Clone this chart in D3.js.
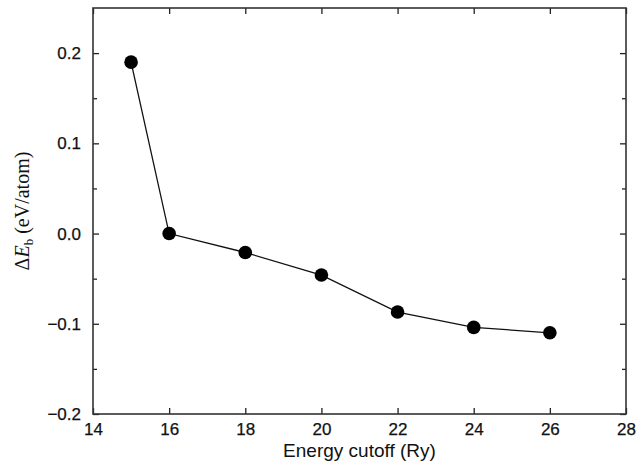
<!DOCTYPE html>
<html>
<head>
<meta charset="utf-8">
<script src="https://cdn.jsdelivr.net/npm/d3@7"></script>
<style>
  body { margin: 0; background: #fff; }
</style>
</head>
<body>
<svg id="chart" width="636" height="468"></svg>
<script>
const cutoff = [15, 16, 18, 20, 22, 24, 26];
const deltaE = [0.19, 0.0, -0.021, -0.046, -0.087, -0.104, -0.110];
const xTicks = [14, 16, 18, 20, 22, 24, 26, 28];
const yTicks = [-0.2, -0.1, 0.0, 0.1, 0.2];
const yMinor = [-0.15, -0.05, 0.05, 0.15];

const margin = { top: 8, right: 10, bottom: 54, left: 93 };
const svg = d3.select('#chart');
const width = 636 - margin.left - margin.right;
const height = 468 - margin.top - margin.bottom;

const x = d3.scaleLinear().domain([14, 28]).range([0, width]);
const y = d3.scaleLinear().domain([-0.2, 0.25]).range([height, 0]);

const g = svg.append('g').attr('transform', 'translate(' + margin.left + ',' + margin.top + ')');

// inward ticks on all four sides
const tk = 6;
const xAxis = d3.axisBottom(x).tickValues(xTicks).tickSize(-tk).tickPadding(9).tickFormat(d3.format('d'));
const xTop = d3.axisTop(x).tickValues(xTicks).tickSize(-tk).tickFormat('');
const yAxis = d3.axisLeft(y).tickValues(yTicks).tickSize(-tk).tickPadding(12).tickFormat(d3.format('.1f'));
const yRight = d3.axisRight(y).tickValues(yTicks).tickSize(-tk).tickFormat('');
const yMinorL = d3.axisLeft(y).tickValues(yMinor).tickSize(-4).tickFormat('');
const yMinorR = d3.axisRight(y).tickValues(yMinor).tickSize(-4).tickFormat('');

function style(sel) {
  sel.select('.domain').remove();
  sel.selectAll('line').attr('stroke', '#222').attr('stroke-width', 1.3);
  sel.selectAll('text').attr('fill', '#111').attr('stroke', '#111').attr('stroke-width', 0.25)
    .style('font-family', '"Liberation Sans", Arial, sans-serif').style('font-size', '17px');
}

g.append('g').attr('transform', 'translate(0,' + height + ')').call(xAxis).call(style);
g.append('g').call(xTop).call(style);
g.append('g').call(yAxis).call(style)
  .selectAll('text').text(d => d < 0 ? '\u2212' + Math.abs(d).toFixed(1) : d.toFixed(1));
g.append('g').attr('transform', 'translate(' + width + ',0)').call(yRight).call(style);
g.append('g').call(yMinorL).call(style);
g.append('g').attr('transform', 'translate(' + width + ',0)').call(yMinorR).call(style);

g.append('rect').attr('width', width).attr('height', height)
  .attr('fill', 'none').attr('stroke', '#333').attr('stroke-width', 1.6);

const pts = cutoff.map((c, i) => ({ x: c, y: deltaE[i] }));
const line = d3.line().x(d => x(d.x)).y(d => y(d.y));
g.append('path').datum(pts).attr('fill', 'none').attr('stroke', '#111').attr('stroke-width', 1.3).attr('d', line);
g.selectAll('circle').data(pts).enter().append('circle')
  .attr('cx', d => x(d.x)).attr('cy', d => y(d.y)).attr('r', 6.8).attr('fill', '#000');

svg.append('text').attr('x', margin.left + width / 2).attr('y', 457)
  .attr('text-anchor', 'middle').attr('fill', '#111')
  .style('font-family', '"Liberation Sans", Arial, sans-serif').style('font-size', '19px')
  .text('Energy cutoff (Ry)');

const yl = svg.append('text').attr('transform', 'translate(29,' + (margin.top + height / 2) + ') rotate(-90)')
  .attr('text-anchor', 'middle').attr('fill', '#111')
  .style('font-family', '"Liberation Serif", "Times New Roman", serif').style('font-size', '20px');
yl.append('tspan').text('\u0394');
yl.append('tspan').style('font-style', 'italic').text('E');
yl.append('tspan').attr('baseline-shift', '-30%').style('font-size', '13px').text('b');
yl.append('tspan').text(' (eV/atom)');
</script>
</body>
</html>
